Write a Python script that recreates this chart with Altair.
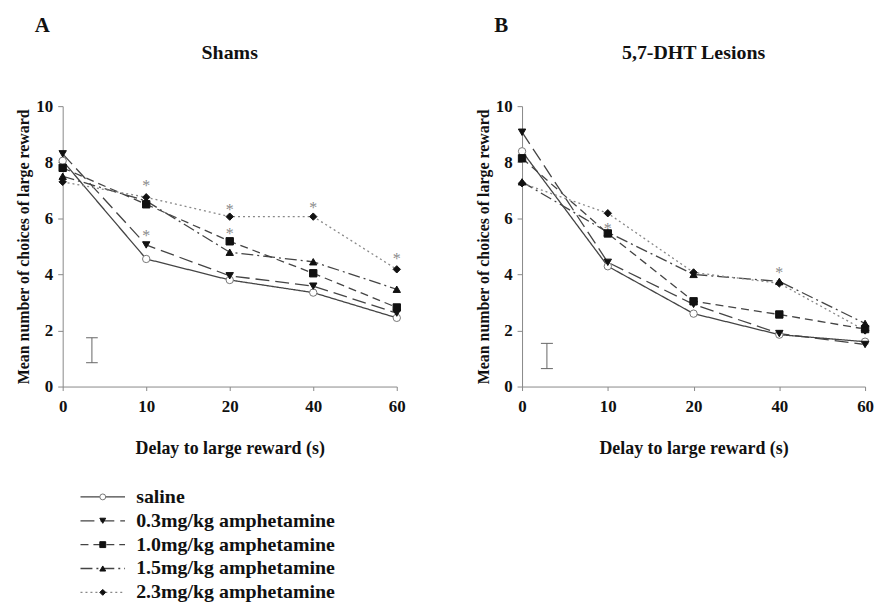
import altair as alt
import pandas as pd

delays = ["0", "10", "20", "40", "60"]
series = ["saline", "0.3mg/kg amphetamine", "1.0mg/kg amphetamine",
          "1.5mg/kg amphetamine", "2.3mg/kg amphetamine"]

shams_saline = [8.05, 4.55, 3.8, 3.35, 2.45]
shams_03 = [8.3, 5.05, 3.95, 3.58, 2.62]
shams_10 = [7.8, 6.5, 5.18, 4.04, 2.82]
shams_15 = [7.5, 6.62, 4.79, 4.45, 3.47]
shams_23 = [7.3, 6.75, 6.06, 6.06, 4.18]

lesion_saline = [8.39, 4.29, 2.6, 1.85, 1.6]
lesion_03 = [9.07, 4.43, 2.93, 1.89, 1.5]
lesion_10 = [8.14, 5.46, 3.04, 2.57, 2.05]
lesion_15 = [7.3, 5.5, 4.0, 3.75, 2.25]
lesion_23 = [7.25, 6.18, 4.07, 3.68, 2.0]

# significance asterisks: (delay index, y)
shams_star_x = [1, 1, 2, 2, 3, 4]
shams_star_y = [7.3, 5.5, 6.45, 5.57, 6.5, 4.68]
lesion_star_x = [1, 3]
lesion_star_y = [5.75, 4.2]

# representative error bar: (x position in delay-index units, low, high)
shams_err = [0.35, 0.85, 1.74]
lesion_err = [0.29, 0.64, 1.54]

FONT = "Liberation Serif"
dash_range = [[1, 0], [14, 6], [8, 5], [12, 4, 2, 4], [2, 3]]
shape_range = ["circle", "triangle-down", "square", "triangle-up", "diamond"]
line_colors = ["#444444", "#444444", "#444444", "#444444", "#888888"]
fill_range = ["#ffffff", "#111111", "#111111", "#111111", "#111111"]
stroke_range = ["#777777", "#111111", "#111111", "#111111", "#111111"]

label_expr = "[" + ",".join("'%s'" % d for d in delays) + "][datum.value]"


def make_df(vals):
    rows = []
    for s, v in zip(series, vals):
        for i, y in enumerate(v):
            rows.append({"series": s, "order": series.index(s), "xi": i, "y": y})
    return pd.DataFrame(rows)


def panel(vals, star_x, star_y, err, title, letter, w, h):
    df = make_df(vals)
    sdf = pd.DataFrame({"xi": star_x, "y": star_y})
    edf = pd.DataFrame({"xi": [err[0]], "lo": [err[1]], "hi": [err[2]],
                        "xl": [err[0] - 0.07], "xr": [err[0] + 0.07]})
    xscale = alt.Scale(domain=[0, 4], nice=False, zero=False)
    yscale = alt.Scale(domain=[0, 10], nice=False)
    xaxis = alt.Axis(values=[0, 1, 2, 3, 4], labelExpr=label_expr,
                     title="Delay to large reward (s)", grid=False, labelFlush=False,
                     labelFont=FONT, labelFontSize=17, labelFontWeight="bold",
                     labelColor="#111", titleFont=FONT, titleFontSize=18,
                     titleFontWeight="bold", titleColor="#111", titlePadding=25,
                     labelPadding=8, domainColor="#888", tickColor="#888",
                     tickSize=4)
    yaxis = alt.Axis(values=[0, 2, 4, 6, 8, 10], title="Mean number of choices of large reward",
                     grid=False, labelFlush=False, labelFont=FONT, labelFontSize=17,
                     labelFontWeight="bold", labelColor="#111", titleFont=FONT,
                     titleFontSize=16, titleFontWeight="bold", titleColor="#111",
                     titlePadding=4, labelPadding=5, domainColor="#888",
                     tickColor="#888", tickSize=5)
    enc_x = alt.X("xi:Q", scale=xscale, axis=xaxis)
    enc_y = alt.Y("y:Q", scale=yscale, axis=yaxis)

    lines = alt.Chart(df).mark_line(strokeWidth=1.3).encode(
        x=enc_x, y=enc_y,
        detail="series:N",
        strokeDash=alt.StrokeDash("series:N", scale=alt.Scale(domain=series, range=dash_range), legend=None),
        color=alt.Color("series:N", scale=alt.Scale(domain=series, range=line_colors), legend=None),
    )
    points = alt.Chart(df).mark_point(size=55, filled=False, strokeWidth=1, opacity=1).encode(
        x="xi:Q", y="y:Q",
        shape=alt.Shape("series:N", scale=alt.Scale(domain=series, range=shape_range), legend=None),
        fill=alt.Fill("series:N", scale=alt.Scale(domain=series, range=fill_range), legend=None),
        stroke=alt.Stroke("series:N", scale=alt.Scale(domain=series, range=stroke_range), legend=None),
        order="order:Q",
    )
    stars = alt.Chart(sdf).mark_text(text="*", fontSize=16, color="#8a8a8a",
                                      font=FONT, baseline="middle", dy=4).encode(
        x="xi:Q", y="y:Q")
    ebar = alt.Chart(edf).mark_rule(color="#666", strokeWidth=1).encode(
        x="xi:Q", y="lo:Q", y2="hi:Q")
    ecap1 = alt.Chart(edf).mark_rule(color="#666", strokeWidth=1).encode(
        x="xl:Q", x2="xr:Q", y="lo:Q")
    ecap2 = alt.Chart(edf).mark_rule(color="#666", strokeWidth=1).encode(
        x="xl:Q", x2="xr:Q", y="hi:Q")
    ltr = alt.Chart(pd.DataFrame({"t": [letter]})).mark_text(
        font=FONT, fontSize=21, fontWeight="bold", color="#111", align="left",
        baseline="middle").encode(text="t:N", x=alt.value(-28), y=alt.value(-81))
    ttl = alt.Chart(pd.DataFrame({"t": [title]})).mark_text(
        font=FONT, fontSize=20, fontWeight="bold", color="#111", align="center",
        baseline="middle").encode(text="t:N", x=alt.value(w / 2), y=alt.value(-53))

    return alt.layer(lines, points, stars, ebar, ecap1, ecap2, ltr, ttl).properties(
        width=w, height=h,
    )


pA = panel([shams_saline, shams_03, shams_10, shams_15, shams_23],
           shams_star_x, shams_star_y, shams_err, "Shams", "A", 336, 282)
pB = panel([lesion_saline, lesion_03, lesion_10, lesion_15, lesion_23],
           lesion_star_x, lesion_star_y, lesion_err, "5,7-DHT Lesions", "B", 345, 282)

# legend panel built from the series list
leg_rows = []
for i, s in enumerate(series):
    leg_rows.append({"series": s, "order": i, "row": i, "lx": 0.0})
    leg_rows.append({"series": s, "order": i, "row": i, "lx": 1.0})
ldf = pd.DataFrame(leg_rows)
lpts = pd.DataFrame({"series": series, "order": list(range(5)), "row": list(range(5)),
                     "lx": [0.5] * 5, "tx": [1.25] * 5})
lx_scale = alt.Scale(domain=[-0.4, 6.3], nice=False, zero=False)
ly_scale = alt.Scale(domain=[-0.5, 4.5], nice=False, reverse=True)
leg_lines = alt.Chart(ldf).mark_line(strokeWidth=1.3).encode(
    x=alt.X("lx:Q", scale=lx_scale, axis=None),
    y=alt.Y("row:Q", scale=ly_scale, axis=None),
    detail="series:N",
    strokeDash=alt.StrokeDash("series:N", scale=alt.Scale(domain=series, range=dash_range), legend=None),
    color=alt.Color("series:N", scale=alt.Scale(domain=series, range=line_colors), legend=None),
)
leg_pts = alt.Chart(lpts).mark_point(size=35, filled=False, strokeWidth=1, opacity=1).encode(
    x="lx:Q", y="row:Q",
    shape=alt.Shape("series:N", scale=alt.Scale(domain=series, range=shape_range), legend=None),
    fill=alt.Fill("series:N", scale=alt.Scale(domain=series, range=fill_range), legend=None),
    stroke=alt.Stroke("series:N", scale=alt.Scale(domain=series, range=stroke_range), legend=None),
)
leg_txt = alt.Chart(lpts).mark_text(font=FONT, fontSize=20, fontWeight="bold",
                                     color="#111", align="left", baseline="middle").encode(
    x="tx:Q", y="row:Q", text="series:N")
legend = alt.layer(leg_lines, leg_pts, leg_txt).properties(width=300, height=120)

chart = alt.vconcat(
    alt.hconcat(pA, pB, spacing=69),
    legend, spacing=28,
).properties(
    padding={"left": 7, "top": 5, "right": 5, "bottom": 0},
    background="white",
).configure_view(stroke=None)

chart.save("out.html", embed_options={"renderer": "svg", "actions": False})
